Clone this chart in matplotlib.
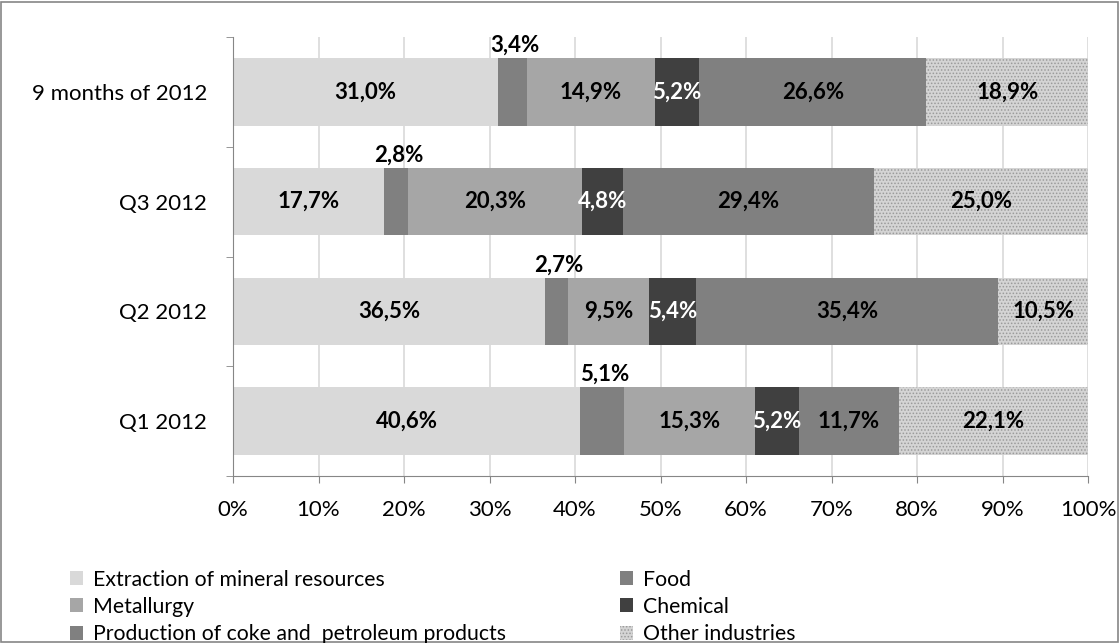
import matplotlib.pyplot as plt
from matplotlib.patches import Rectangle, Patch
import numpy as np

plt.rcParams['font.family'] = ['Lato', 'DejaVu Sans']
plt.rcParams['hatch.linewidth'] = 0.7

periods = ['Q1 2012', 'Q2 2012', 'Q3 2012', '9 months of 2012']
industries = ['Extraction of mineral resources', 'Food', 'Metallurgy', 'Chemical',
              'Production of coke and  petroleum products', 'Other industries']
# shares (%) per period, same order as periods
extraction = [40.6, 36.5, 17.7, 31.0]
food = [5.1, 2.7, 2.8, 3.4]
metallurgy = [15.3, 9.5, 20.3, 14.9]
chemical = [5.2, 5.4, 4.8, 5.2]
coke = [11.7, 35.4, 29.4, 26.6]
other = [22.1, 10.5, 25.0, 18.9]

series = [extraction, food, metallurgy, chemical, coke, other]
colors = ['#d9d9d9', '#808080', '#a6a6a6', '#404040', '#808080', '#d4d4d4']
hatches = [None, None, None, None, None, '.....']
txt_colors = ['black', 'black', 'black', 'white', 'black', 'black']
FS = 16

fig = plt.figure(figsize=(11.2, 6.43), dpi=100)
ax = fig.add_axes([233/1120, 1 - 476/643, 855/1120, 439/643])

y = np.arange(len(periods))
left = np.zeros(len(periods))
bh = 0.615
for i, (vals, c, h) in enumerate(zip(series, colors, hatches)):
    vals = np.array(vals)
    ax.barh(y, vals, left=left, height=bh, color=c, hatch=h,
            edgecolor='#9a9a9a' if h else c, linewidth=0, zorder=2)
    for j, v in enumerate(vals):
        cx = left[j] + v / 2
        lab = f'{v:.1f}%'.replace('.', ',')
        if i == 1:
            ax.text(cx + 0.3, y[j] + bh / 2 + 0.02, lab, ha='center', va='bottom',
                    fontsize=FS, fontweight='bold', color='black')
        else:
            ax.text(cx, y[j], lab, ha='center', va='center',
                    fontsize=FS, fontweight='bold', color=txt_colors[i], zorder=3)
    left += vals

ax.set_xlim(0, 100)
ax.set_ylim(-0.5, len(periods) - 0.5)
ax.set_xticks(np.arange(0, 101, 10))
ax.set_xticklabels([f'{t}%' for t in range(0, 101, 10)], fontsize=FS)
ax.set_yticks(y)
ax.set_yticklabels(periods, fontsize=FS)
ax.set_yticks(np.arange(-0.5, len(periods), 1), minor=True)
ax.tick_params(axis='y', which='major', length=0, pad=18.5)
ax.tick_params(axis='y', which='minor', length=5, color='#868686', direction='out')
ax.tick_params(axis='x', length=5, color='#868686', direction='out', pad=12)
ax.grid(axis='x', color='#d9d9d9', linewidth=1.2, zorder=0)
ax.set_axisbelow(True)
for s in ['top', 'right']:
    ax.spines[s].set_visible(False)
ax.spines['left'].set_color('#868686')
ax.spines['bottom'].set_color('#868686')

handles = [Patch(facecolor=c, hatch=h, edgecolor='#9a9a9a' if h else c, linewidth=0)
           for c, h in zip(colors, hatches)]
leg_kw = dict(frameon=False, fontsize=15.3, handlelength=0.65, handleheight=0.65,
              handletextpad=0.45, labelspacing=0.34, borderpad=0, loc='upper left')
fig.legend([handles[0], handles[2], handles[4]],
           [industries[0], industries[2], industries[4]],
           bbox_to_anchor=(59/1120, 1 - 559/643), **leg_kw)
fig.legend([handles[1], handles[3], handles[5]],
           [industries[1], industries[3], industries[5]],
           bbox_to_anchor=(609/1120, 1 - 559/643), **leg_kw)

fig.patches.append(Rectangle((1/1120, 1/643), 1117/1120, 640/643, transform=fig.transFigure,
                             fill=False, edgecolor='#868686', linewidth=1.2))

fig.savefig('out.png', dpi=100)
